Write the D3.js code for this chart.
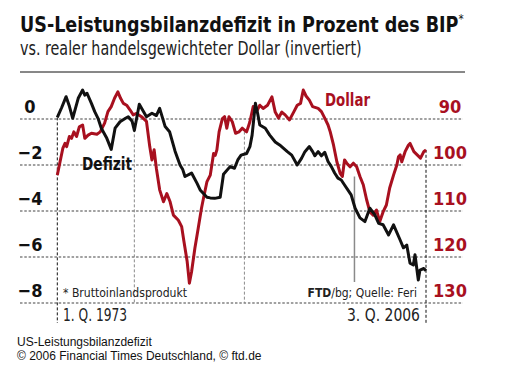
<!DOCTYPE html>
<html><head><meta charset="utf-8">
<script src="https://cdn.jsdelivr.net/npm/d3@7"></script>
<style>
body{margin:0;background:#fff;}
svg{display:block;}
text{font-family:"Liberation Sans Narrow","DejaVu Sans Condensed","Open Sans",sans-serif;}
</style></head>
<body>
<svg id="c" width="508" height="377"></svg>
<script>
// ---- data ----
const defizitT = [1973.0,1973.4,1973.8,1974.1,1974.4,1974.9,1975.3,1975.5,1975.7,1976.1,1976.4,1976.7,1977.0,1977.5,1977.9,1978.25,1978.7,1979.2,1979.45,1979.8,1980.0,1980.45,1981.1,1981.6,1982.0,1982.3,1982.8,1983.2,1983.7,1984.15,1984.4,1984.6,1985.2,1985.7,1986.0,1986.6,1986.9,1987.3,1987.8,1988.1,1988.7,1989.1,1989.4,1989.7,1990.2,1990.5,1990.7,1991.0,1991.2,1991.4,1991.9,1992.3,1992.8,1993.2,1993.9,1994.3,1994.8,1995.2,1995.5,1995.9,1996.2,1996.4,1996.7,1997.0,1997.3,1997.6,1997.9,1998.2,1998.5,1998.8,1999.1,1999.7,2000.06,2000.5,2000.95,2001.4,2001.85,2002.2,2002.6,2003.1,2003.55,2004.15,2004.45,2004.75,2005.05,2005.35,2005.5,2005.8,2005.95,2006.3,2006.5];
const defizitV = [0.07,0.5,0.97,0.55,0.03,0.9,1.26,1.04,1.12,0.68,0.32,0.03,-0.4,-0.84,-1.32,-0.4,-0.12,0.03,0.1,-0.1,-0.5,0.64,0.1,0.25,0.15,0.46,-0.33,-0.55,-1.4,-2.0,-2.2,-2.5,-2.35,-2.8,-3.1,-3.4,-3.43,-3.45,-3.4,-2.4,-2.07,-2.14,-1.78,-1.57,-1.5,-1.2,-0.7,0.68,0.25,-0.26,-0.4,-0.7,-1.0,-1.13,-1.42,-1.57,-2.0,-1.7,-1.42,-1.2,-1.42,-1.6,-1.42,-1.6,-1.45,-1.85,-2.07,-2.35,-2.57,-2.65,-2.87,-3.3,-3.88,-4.3,-4.46,-3.88,-4.17,-4.54,-4.6,-5.04,-4.6,-5.26,-5.6,-5.48,-6.27,-6.35,-5.9,-7.0,-6.57,-6.5,-6.6];
const dollarT = [1973.0,1973.25,1973.5,1973.7,1973.85,1974.1,1974.3,1974.5,1974.75,1975.0,1975.3,1975.5,1975.8,1976.1,1976.6,1976.9,1977.3,1977.6,1977.9,1978.2,1978.5,1978.75,1979.0,1979.3,1979.6,1979.9,1980.2,1980.65,1981.1,1981.4,1981.6,1981.8,1982.0,1982.3,1982.65,1982.95,1983.25,1983.55,1984.0,1984.3,1984.5,1984.8,1985.0,1985.2,1985.5,1985.8,1986.1,1986.3,1986.6,1986.9,1987.2,1987.35,1987.5,1987.7,1988.0,1988.2,1988.4,1988.6,1988.9,1989.2,1989.5,1989.8,1990.2,1990.5,1990.8,1991.1,1991.4,1991.7,1992.1,1992.5,1992.8,1993.1,1993.4,1993.7,1994.1,1994.5,1994.8,1995.1,1995.35,1995.6,1995.9,1996.2,1996.7,1997.0,1997.3,1997.6,1997.8,1998.1,1998.4,1998.7,1998.9,1999.1,1999.3,1999.6,1999.9,2000.2,2000.5,2000.8,2001.1,2001.4,2001.7,2002.0,2002.3,2002.6,2002.9,2003.2,2003.55,2003.85,2004.0,2004.15,2004.3,2004.6,2004.9,2005.05,2005.4,2005.7,2006.0,2006.3,2006.5];
const dollarV = [102.2,99.3,96.4,95.3,96,93.8,94.2,92.8,93.8,91.7,91.3,94.2,93.5,93.1,93.3,92.8,90.9,88.4,87.3,85.5,84.1,85.5,86.6,87,88,89.1,88.8,89.5,90.5,96,98.9,96.7,100.7,105.4,108,106.2,108,110.9,112,113.4,116.5,121,125.7,123.2,118.1,113.8,109.4,107,103.6,102.2,97.5,97.9,96.7,92.8,89.9,89.5,92,89.5,90.6,93.1,92.8,92,92.8,90.6,87.3,88.4,87,87.7,87,85.2,88.5,89.8,88.5,89.1,90.2,88.4,87,86.6,83.7,85,85.9,87.3,87.7,88.4,89.8,91.3,92.8,95.7,99.3,101.8,102.5,98.9,99.6,100.4,99.6,100.4,102.5,104.3,107.5,110.2,110.9,109.8,112.3,110.2,108.7,105,102.2,100,98.2,97.8,99.3,97.1,95.7,95.3,97.1,97.8,98.5,97.1,96.7];
const leftTicks = [0,-2,-4,-6,-8];
const leftTickLabels = ["0","\u22122","\u22124","\u22126","\u22128"];
const rightTicks = [90,100,110,120,130];
const markerYears = [1980,1990,2000];
const markerTops = [-0.45,-0.55,-2.5];   // deficit units where the marker lines start
const startLabel = "1. Q. 1973", endLabel = "3. Q. 2006";

const RED = "#a8101f";
const svg = d3.select("#c");

const x = d3.scaleLinear().domain([1973.0, 2006.5]).range([57.3, 426]);
const yL = d3.scaleLinear().domain([0,-8]).range([119, 303]);
const yR = d3.scaleLinear().domain([90,130]).range([119, 303]);

// squeeze a text horizontally to a target width with a transform
function fit(g, width){
  const t = g.select("text").node();
  const w = t.getComputedTextLength();
  const k = Math.min(1, width / w);
  g.attr("transform", g.attr("transform") + ` scale(${k},1)`);
}

// title
const tg = svg.append("g").attr("transform","translate(20,31.5)");
const title = tg.append("text").attr("x",0).attr("y",0).attr("font-size",22).attr("font-weight","bold").attr("fill","#111");
title.append("tspan").text("US-Leistungsbilanzdefizit in Prozent des BIP");
title.append("tspan").attr("font-weight","normal").attr("font-size",13).attr("dy",-9).text("*");
fit(tg, 444);
const sg = svg.append("g").attr("transform","translate(20,55)");
sg.append("text").attr("font-size",19).attr("fill","#222")
  .text("vs. realer handelsgewichteter Dollar (invertiert)");
fit(sg, 342);
svg.append("line").attr("x1",20).attr("x2",465).attr("y1",72).attr("y2",72).attr("stroke","#111").attr("stroke-width",1);

// horizontal grid
svg.append("g").selectAll("line").data(leftTicks).join("line")
  .attr("x1",20).attr("x2",463).attr("y1",d=>yL(d)).attr("y2",d=>yL(d))
  .attr("stroke","#444").attr("stroke-width",1.2).attr("stroke-dasharray","2.5,1.8");

// vertical markers
svg.append("g").selectAll("line").data(markerYears).join("line")
  .attr("x1",d=>x(d)).attr("x2",d=>x(d))
  .attr("y1",(d,i)=>yL(markerTops[i]))
  .attr("y2",d=> d===2000 ? 282 : yL(-8))
  .attr("stroke","#8a8a8a").attr("stroke-width",d=>d===2000?1.5:1)
  .attr("stroke-dasharray",d=>d===2000?null:"3,2");

// start / end markers
svg.append("line").attr("x1",x(1973.0)).attr("x2",x(1973.0))
  .attr("y1",yL(defizitV[0])).attr("y2",323)
  .attr("stroke","#111").attr("stroke-width",1).attr("stroke-dasharray","3,2");
svg.append("line").attr("x1",x(2006.5)).attr("x2",x(2006.5))
  .attr("y1",yR(dollarV[dollarV.length-1])).attr("y2",323)
  .attr("stroke","#111").attr("stroke-width",1).attr("stroke-dasharray","3,2");

// axis labels
svg.append("g").selectAll("text").data(leftTicks).join("text")
  .attr("x",30).attr("y",d=>yL(d)-6).attr("text-anchor","middle")
  .attr("font-size",18).attr("font-weight","bold").attr("fill","#111")
  .text((d,i)=>leftTickLabels[i]);
svg.append("g").selectAll("text").data(rightTicks).join("text")
  .attr("x",450).attr("y",d=>yR(d)-6).attr("text-anchor","middle")
  .attr("font-size",18).attr("font-weight","bold").attr("fill",RED)
  .text(d=>d);

// lines
const lineD = d3.line().x((d)=>x(d[0])).y(d=>yL(d[1])).curve(d3.curveLinear);
const lineR = d3.line().x((d)=>x(d[0])).y(d=>yR(d[1])).curve(d3.curveLinear);
svg.append("path").datum(dollarT.map((t,i)=>[t,dollarV[i]]))
  .attr("d",lineR).attr("fill","none").attr("stroke",RED).attr("stroke-width",3).attr("stroke-linejoin","round");
svg.append("path").datum(defizitT.map((t,i)=>[t,defizitV[i]]))
  .attr("d",lineD).attr("fill","none").attr("stroke","#111").attr("stroke-width",3).attr("stroke-linejoin","round");

// series labels
svg.append("text").attr("x",325).attr("y",106).attr("font-size",18).attr("font-weight","bold")
  .attr("fill",RED).attr("textLength",45).attr("lengthAdjust","spacingAndGlyphs").text("Dollar");
svg.append("text").attr("x",82).attr("y",170).attr("font-size",18).attr("font-weight","bold")
  .attr("fill","#111").attr("textLength",50).attr("lengthAdjust","spacingAndGlyphs").text("Defizit");

// notes
svg.append("text").attr("x",63).attr("y",297).attr("font-size",13).attr("fill","#222")
  .attr("textLength",124).attr("lengthAdjust","spacingAndGlyphs").text("* Bruttoinlandsprodukt");
const src = svg.append("text").attr("x",417).attr("y",297).attr("text-anchor","end").attr("font-size",12).attr("fill","#222");
src.append("tspan").attr("font-weight","bold").text("FTD");
src.append("tspan").text("/bg; Quelle: Feri");

svg.append("text").attr("x",63).attr("y",321).attr("font-size",18).attr("fill","#222")
  .attr("textLength",64).attr("lengthAdjust","spacingAndGlyphs").text(startLabel);
svg.append("text").attr("x",420).attr("y",321).attr("text-anchor","end").attr("font-size",18).attr("fill","#222")
  .attr("textLength",73).attr("lengthAdjust","spacingAndGlyphs").text(endLabel);

// footer
svg.append("text").attr("x",17).attr("y",346).attr("font-size",12).attr("fill","#111")
  .style("font-family","'Liberation Sans',Arial,sans-serif").text("US-Leistungsbilanzdefizit");
svg.append("text").attr("x",17).attr("y",359.5).attr("font-size",12).attr("fill","#111")
  .style("font-family","'Liberation Sans',Arial,sans-serif").text("\u00a9 2006 Financial Times Deutschland, \u00a9 ftd.de");
</script>
</body></html>
